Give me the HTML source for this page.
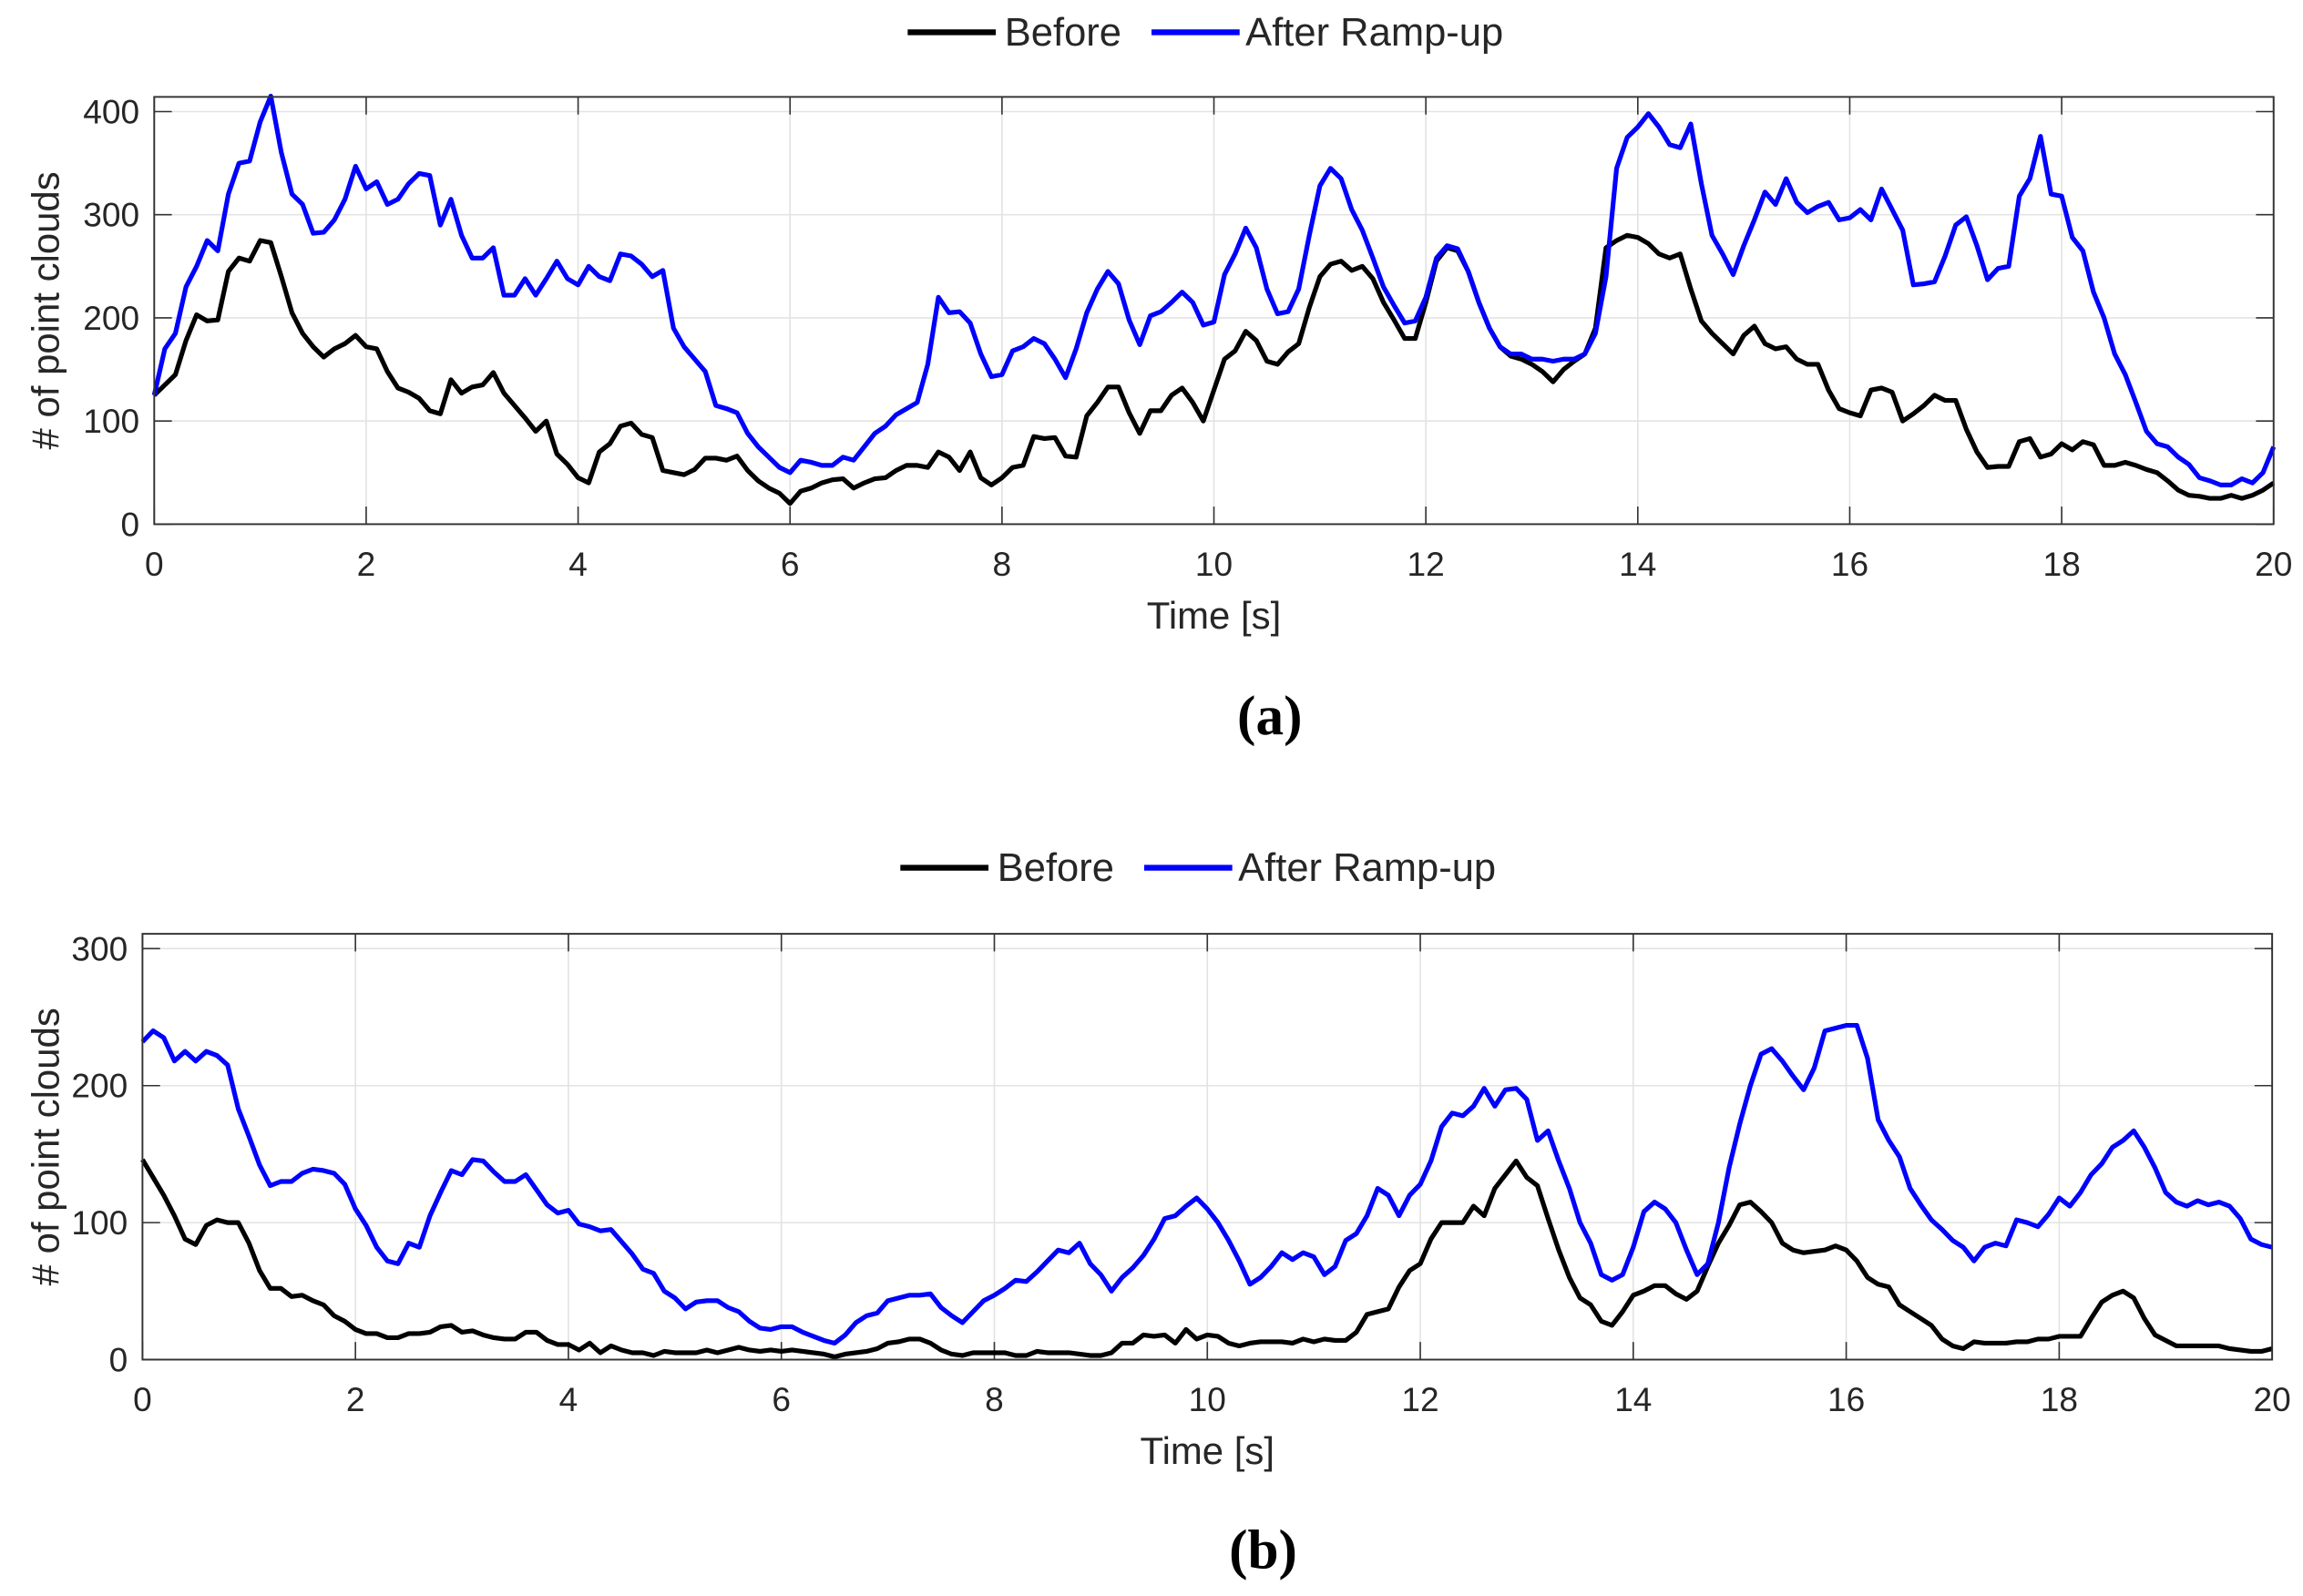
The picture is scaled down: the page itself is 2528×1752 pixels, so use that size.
<!DOCTYPE html>
<html><head><meta charset="utf-8"><style>
html,body{margin:0;padding:0;background:#fff}
svg{display:block}
text{font-family:"Liberation Sans",sans-serif;fill:#262626}
</style></head><body>
<svg id="fig" width="2528" height="1752" viewBox="0 0 1568 1087" preserveAspectRatio="none" xmlns="http://www.w3.org/2000/svg"></svg>
<script>
const timeA=[];for(let i=0;i<=200;i++)timeA.push(i/10);
const afterA=[125,170,185,230,250,275,265,320,350,352,390,415,360,320,310,282,283,295,315,347,325,332,310,315,330,340,338,290,315,280,258,258,268,222,222,238,222,238,255,238,232,250,240,236,262,260,252,240,246,190,172,160,148,115,112,108,88,75,65,55,50,62,60,57,57,65,62,75,88,95,106,112,118,155,220,205,206,195,165,143,145,168,172,180,175,160,142,170,205,228,245,233,198,174,202,206,215,225,215,193,196,242,262,287,268,228,204,206,228,280,328,345,335,305,285,258,230,212,195,197,220,258,270,267,245,215,190,172,165,165,160,160,158,160,160,165,185,240,345,375,385,398,385,368,365,388,330,280,262,242,270,295,322,310,335,312,302,308,312,295,297,305,295,325,305,285,232,233,235,260,290,298,270,237,248,250,318,335,376,320,318,278,265,225,200,165,145,118,90,78,75,65,58,45,42,38,38,44,40,50,75];
const beforeA=[125,135,145,178,203,197,198,245,258,255,275,273,240,205,185,172,162,170,175,183,172,170,148,132,128,122,110,107,140,127,133,135,147,127,115,103,90,100,68,58,45,40,70,78,95,98,87,84,52,50,48,53,64,64,62,66,52,42,35,30,20,32,35,40,43,44,35,40,44,45,52,57,57,55,70,65,52,70,45,38,45,55,57,85,83,84,66,65,105,118,133,133,108,88,110,110,125,132,118,100,130,160,168,187,178,158,155,167,175,210,240,252,255,246,250,238,215,198,180,180,215,255,268,265,245,215,190,172,163,160,155,148,138,150,158,165,190,268,275,280,278,272,262,258,262,228,197,185,175,165,183,192,175,170,172,160,155,155,130,112,108,105,130,132,128,100,107,115,125,120,120,92,70,55,56,56,80,83,65,68,78,72,80,77,57,57,60,57,53,50,42,33,28,27,25,25,28,25,28,33,40];
const afterB=[232,240,235,218,225,218,225,222,215,183,163,142,127,130,130,136,139,138,136,128,110,98,82,72,70,85,82,105,122,138,135,146,145,137,130,130,135,124,113,107,109,99,97,94,95,86,77,66,63,50,45,37,42,43,43,38,35,28,23,22,24,24,20,17,14,12,18,27,32,34,43,45,47,47,48,38,32,27,35,43,47,52,58,57,64,72,80,78,85,70,62,50,60,67,76,88,103,105,112,118,110,100,87,72,55,60,68,78,73,78,75,62,68,87,92,105,125,120,105,120,128,145,170,180,178,185,198,185,197,198,190,160,167,145,125,100,85,62,58,62,82,108,115,110,100,80,62,70,100,140,172,200,223,227,218,207,197,213,240,242,244,244,220,175,160,148,125,113,102,95,87,82,72,82,85,83,102,100,97,106,118,112,122,135,143,155,160,167,155,140,122,115,112,116,113,115,112,103,88,84,82];
const beforeB=[146,133,120,105,88,84,98,102,100,100,85,65,52,52,46,47,43,40,32,28,22,19,19,16,16,19,19,20,24,25,20,21,18,16,15,15,20,20,14,11,11,7,12,5,10,7,5,5,3,6,5,5,5,7,5,7,9,7,6,7,6,7,6,5,4,2,4,5,6,8,12,13,15,15,12,7,4,3,5,5,5,5,3,3,6,5,5,5,4,3,3,5,12,12,18,17,18,12,22,15,18,17,12,10,12,13,13,13,12,15,13,15,14,14,20,33,35,37,53,65,70,88,100,100,100,112,105,125,135,145,133,127,103,80,60,45,40,28,25,35,47,50,54,54,48,44,50,68,85,98,113,115,108,100,85,80,78,79,80,83,80,72,60,55,53,40,35,30,25,15,10,8,13,12,12,12,13,13,15,15,17,17,17,30,42,47,50,45,30,18,14,10,10,10,10,10,8,7,6,6,8];
const xTicks=[0,2,4,6,8,10,12,14,16,18,20];
const yTicksA=[0,100,200,300,400];
const yTicksB=[0,100,200,300];

const NS='http://www.w3.org/2000/svg';
const svg=document.getElementById('fig');
function mk(tag,attrs,parent){const e=document.createElementNS(NS,tag);for(const k in attrs)e.setAttribute(k,attrs[k]);(parent||svg).appendChild(e);return e;}

function panel(cfg){
  const g=mk('g',{});
  
  
  const X=t=>cfg.x0+(cfg.x1-cfg.x0)*t/20;
  const Y=v=>cfg.y0-v*cfg.sc;
  const top=cfg.top;
  xTicks.forEach(t=>{const l=mk('line',{x1:X(t),x2:X(t),y1:top,y2:cfg.y0,stroke:'#e3e3e3','stroke-width':1},g);
    });
  cfg.yt.forEach(v=>{const l=mk('line',{x1:cfg.x0,x2:cfg.x1,y1:Y(v),y2:Y(v),stroke:'#e3e3e3','stroke-width':1},g);
    });
  xTicks.forEach(t=>{
    mk('line',{x1:X(t),x2:X(t),y1:cfg.y0,y2:cfg.y0-12,stroke:'#333','stroke-width':1},g);
    mk('line',{x1:X(t),x2:X(t),y1:top,y2:top+12,stroke:'#333','stroke-width':1},g);
    const tx=mk('text',{x:X(t),y:cfg.y0+35,'text-anchor':'middle','font-size':23},g);
    tx.textContent=t;
    
  });
  cfg.yt.forEach(v=>{
    mk('line',{x1:cfg.x0,x2:cfg.x0+12,y1:Y(v),y2:Y(v),stroke:'#333','stroke-width':1},g);
    mk('line',{x1:cfg.x1,x2:cfg.x1-12,y1:Y(v),y2:Y(v),stroke:'#333','stroke-width':1},g);
    const tx=mk('text',{x:cfg.x0-10,y:Y(v)+8,'text-anchor':'end','font-size':23},g);
    tx.textContent=v;
    
  });
  [[cfg.before,'#000','before-line'],[cfg.after,'#0000ff','after-rampup-line']].forEach(([d,c,n])=>{
    const p=mk('polyline',{points:d.map((v,i)=>X(timeA[i]).toFixed(2)+','+Y(v).toFixed(2)).join(' '),fill:'none',stroke:c,'stroke-width':3.2,'stroke-linejoin':'round'},g);
    
  });
  const box=mk('rect',{x:cfg.x0,y:top,width:cfg.x1-cfg.x0,height:cfg.y0-top,fill:'none',stroke:'#333','stroke-width':1.2},g);
  
  const xt=mk('text',{x:(cfg.x0+cfg.x1)/2,y:cfg.y0+71,'text-anchor':'middle','font-size':26},g);
  xt.textContent='Time [s]';
  const cy=(top+cfg.y0)/2;
  const yt=mk('text',{x:40,y:cy,'text-anchor':'middle','font-size':26,transform:'rotate(-90 40 '+cy+')'},g);
  yt.textContent='# of point clouds';
  const lg=mk('g',{},g);
  const L=cfg.lx, ly=cfg.ly;
  mk('line',{x1:L,x2:L+60,y1:ly,y2:ly,stroke:'#000','stroke-width':4},lg);
  const t1=mk('text',{x:L+66,y:ly+9,'font-size':27},lg);t1.textContent='Before';
  
  mk('line',{x1:L+166,x2:L+226,y1:ly,y2:ly,stroke:'#0000ff','stroke-width':4},lg);
  const t2=mk('text',{x:L+230,y:ly+9,'font-size':27},lg);t2.textContent='After Ramp-up';
  
  const cap=mk('text',{x:(cfg.x0+cfg.x1)/2+38,y:cfg.capY,'text-anchor':'middle','font-size':38,'font-weight':'bold',style:'font-family:"Liberation Serif",serif;fill:#000'},g);
  cap.textContent=cfg.cap;
}
panel({name:'chart-a',x0:105,x1:1548,y0:357,sc:0.7025,top:66,yt:yTicksA,before:beforeA,after:afterA,lx:618,ly:22,capY:500,cap:'(a)'});
panel({name:'chart-b',x0:97,x1:1547,y0:926,sc:0.933,top:636,yt:yTicksB,before:beforeB,after:afterB,lx:613,ly:591,capY:1068,cap:'(b)'});
</script>
</body></html>
